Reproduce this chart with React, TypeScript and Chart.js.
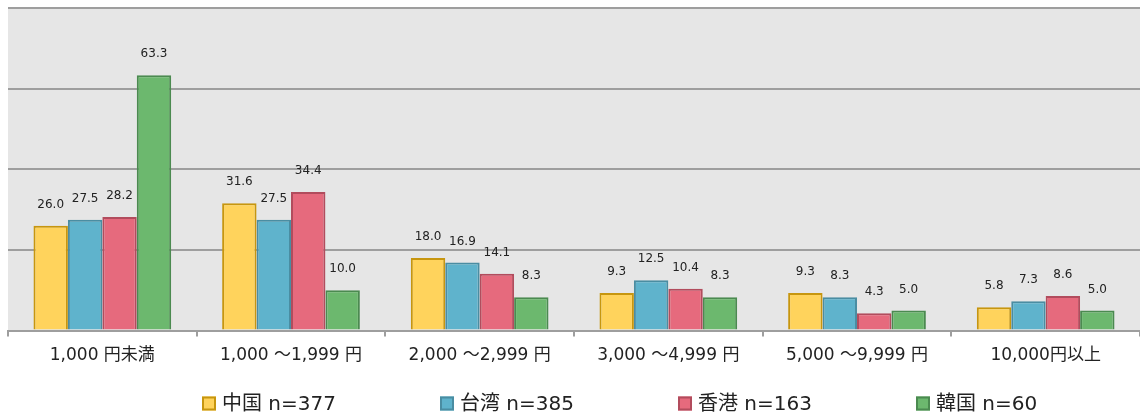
import React, { useEffect, useRef } from "react";
import { Chart, registerables } from "chart.js";

Chart.register(...registerables);

const categories = [
  "1,000 円未満",
  "1,000 ～1,999 円",
  "2,000 ～2,999 円",
  "3,000 ～4,999 円",
  "5,000 ～9,999 円",
  "10,000円以上",
];

const seriesNames = ["中国 n=377", "台湾 n=385", "香港 n=163", "韓国 n=60"];

const chinaValues = [26.0, 31.6, 18.0, 9.3, 9.3, 5.8];
const taiwanValues = [27.5, 27.5, 16.9, 12.5, 8.3, 7.3];
const hongKongValues = [28.2, 34.4, 14.1, 10.4, 4.3, 8.6];
const koreaValues = [63.3, 10.0, 8.3, 8.3, 5.0, 5.0];

const fillColors = ["#FFD35C", "#5FB3CC", "#E66A7D", "#6CB86E"];
const borderColors = ["#C7960F", "#4A8DA2", "#B24C5D", "#4B8A50"];

const FONT = "'DejaVu Sans', 'Noto Sans CJK JP', sans-serif";

const plotBackground = {
  id: "plotBackground",
  beforeDraw(chart: any) {
    const { ctx, chartArea } = chart;
    ctx.save();
    ctx.fillStyle = "#E6E6E6";
    ctx.fillRect(chartArea.left, chartArea.top, chartArea.right - chartArea.left, chartArea.bottom - chartArea.top);
    ctx.restore();
  },
};

const valueLabels = {
  id: "valueLabels",
  afterDatasetsDraw(chart: any) {
    const { ctx } = chart;
    ctx.save();
    ctx.font = `12px ${FONT}`;
    ctx.fillStyle = "#222";
    ctx.textAlign = "center";
    ctx.textBaseline = "middle";
    chart.data.datasets.forEach((ds: any, di: number) => {
      const meta = chart.getDatasetMeta(di);
      meta.data.forEach((el: any, i: number) => {
        ctx.fillText(Number(ds.data[i]).toFixed(1), el.x, el.y - 21);
      });
    });
    ctx.restore();
  },
};

const fixedLegend = {
  id: "fixedLegend",
  afterDraw(chart: any) {
    const { ctx } = chart;
    const startX = 202;
    const step = 238;
    const cy = 403.5;
    ctx.save();
    ctx.font = `20px ${FONT}`;
    ctx.textBaseline = "middle";
    ctx.textAlign = "left";
    chart.data.datasets.forEach((ds: any, i: number) => {
      const x = startX + step * i;
      ctx.fillStyle = ds.backgroundColor;
      ctx.fillRect(x, cy - 7, 14, 14);
      ctx.strokeStyle = ds.borderColor;
      ctx.lineWidth = 2;
      ctx.strokeRect(x + 1, cy - 6, 12, 12);
      ctx.fillStyle = "#222";
      ctx.fillText(ds.label, x + 20, cy + 1);
    });
    ctx.restore();
  },
};

export default function App() {
  const canvasRef = useRef<HTMLCanvasElement | null>(null);

  useEffect(() => {
    document.body.style.margin = "0";
    const canvas = canvasRef.current;
    if (!canvas) return;
    const seriesValues = [chinaValues, taiwanValues, hongKongValues, koreaValues];
    const chart = new Chart(canvas, {
      type: "bar",
      data: {
        labels: categories,
        datasets: seriesNames.map((name, i) => ({
          label: name,
          data: seriesValues[i],
          backgroundColor: fillColors[i],
          borderColor: borderColors[i],
          borderWidth: 2,
          categoryPercentage: 0.73,
          barPercentage: 1,
        })),
      },
      options: {
        animation: false,
        responsive: true,
        maintainAspectRatio: false,
        layout: { padding: { top: 8, left: 8, right: 0, bottom: 44 } },
        plugins: {
          legend: { display: false },
          tooltip: { enabled: false },
        },
        scales: {
          x: {
            grid: {
              drawOnChartArea: false,
              drawTicks: true,
              tickLength: 6,
              color: "#9E9E9E",
              lineWidth: 2,
            },
            border: { color: "#9E9E9E", width: 2 },
            ticks: { font: { family: FONT, size: 17 }, color: "#222", padding: 9 },
          },
          y: {
            min: 0,
            max: 80,
            ticks: { display: false, stepSize: 20 },
            grid: { color: "#9E9E9E", lineWidth: 2, drawTicks: false },
            border: { display: false },
          },
        },
      },
      plugins: [plotBackground, valueLabels, fixedLegend],
    });
    return () => chart.destroy();
  }, []);

  return (
    <div style={{ width: 1140, height: 419, position: "relative" }}>
      <canvas ref={canvasRef} />
    </div>
  );
}
